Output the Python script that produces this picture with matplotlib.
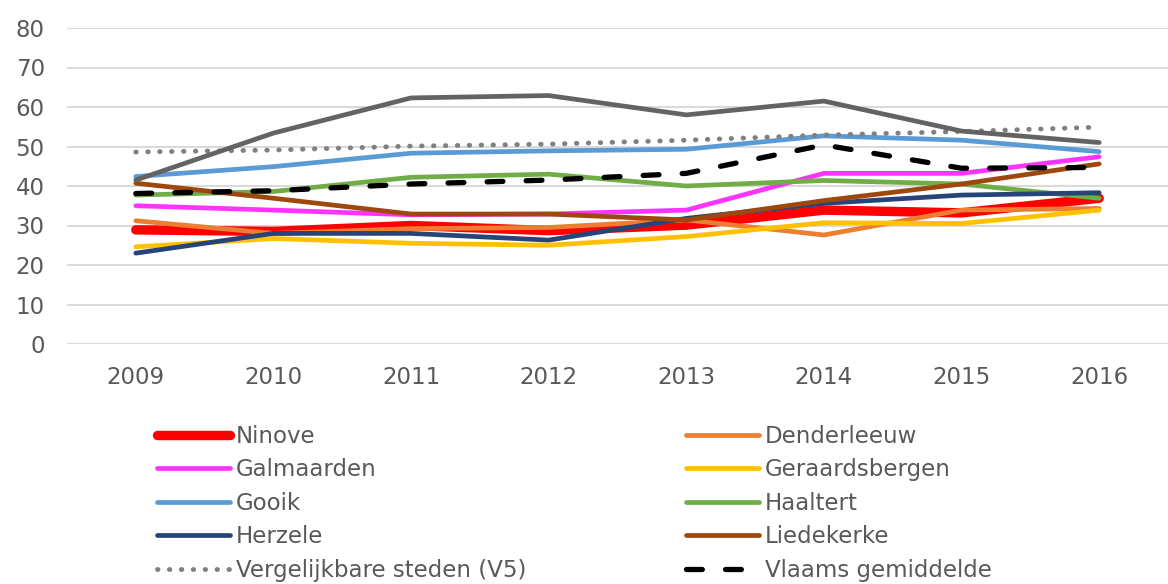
import matplotlib.pyplot as plt
import numpy as np

plt.rcParams['font.family'] = ['DejaVu Sans']

jaren = ['2009', '2010', '2011', '2012', '2013', '2014', '2015', '2016']

ninove = [28.9, 28.5, 30.0, 28.7, 30.1, 33.9, 33.2, 36.9]
denderleeuw = [31.2, 28.0, 29.2, 29.5, 31.4, 27.6, 33.9, 34.3]
galmaarden = [35.0, 33.9, 32.7, 32.9, 33.9, 43.2, 43.2, 47.4]
geraardsbergen = [24.6, 26.7, 25.5, 25.0, 27.2, 30.7, 30.5, 33.9]
gooik = [42.4, 44.9, 48.3, 48.9, 49.3, 52.7, 51.6, 48.7]
haaltert = [37.7, 38.6, 42.2, 43.0, 40.0, 41.4, 40.5, 36.9]
herzele = [23.0, 28.0, 28.0, 26.3, 31.8, 35.6, 37.7, 38.3]
liedekerke = [40.7, 36.9, 32.9, 32.9, 31.4, 36.3, 40.5, 45.6]
v5 = [48.6, 49.1, 50.1, 50.6, 51.6, 52.9, 53.8, 54.9]
vlaams = [38.1, 38.8, 40.5, 41.5, 43.2, 50.4, 44.5, 44.7]
# donkergrijze reeks zonder legende-item
extra = [41.5, 53.4, 62.3, 62.9, 58.0, 61.5, 53.9, 51.0]

fig = plt.figure(figsize=(11.68, 5.84), dpi=100)
ax = fig.add_axes([67 / 1168, 1 - 344 / 584, 1 - 67 / 1168, 316 / 584])

x = np.arange(len(jaren))
lw = 3.4

h_nin, = ax.plot(x, ninove, color='#FF0000', lw=6.8, solid_capstyle='round', label='Ninove')
h_den, = ax.plot(x, denderleeuw, color='#ED7D31', lw=lw, solid_capstyle='round', label='Denderleeuw')
h_gal, = ax.plot(x, galmaarden, color='#FF33FF', lw=lw, solid_capstyle='round', label='Galmaarden')
h_ger, = ax.plot(x, geraardsbergen, color='#FFC000', lw=lw, solid_capstyle='round', label='Geraardsbergen')
h_goo, = ax.plot(x, gooik, color='#5B9BD5', lw=lw, solid_capstyle='round', label='Gooik')
h_haa, = ax.plot(x, haaltert, color='#70AD47', lw=lw, solid_capstyle='round', label='Haaltert')
h_her, = ax.plot(x, herzele, color='#264478', lw=lw, solid_capstyle='round', label='Herzele')
h_lie, = ax.plot(x, liedekerke, color='#9E480E', lw=lw, solid_capstyle='round', label='Liedekerke')
h_v5, = ax.plot(x, v5, color='#808080', lw=3.5, linestyle=(0, (0.1, 2.35)),
                dash_capstyle='round', label='Vergelijkbare steden (V5)')
h_vla, = ax.plot(x, vlaams, color='black', lw=3.8, linestyle=(0, (3.0, 4.4)),
                 dash_capstyle='round', label='Vlaams gemiddelde')
ax.plot(x, extra, color='#636363', lw=lw, solid_capstyle='round')

ax.set_xlim(-0.5, len(jaren) - 0.5)
ax.set_ylim(0, 80)
ax.set_yticks(range(0, 81, 10))
ax.set_xticks(x)
ax.set_xticklabels(jaren)
ax.grid(axis='y', color='#D9D9D9', lw=1.4)
ax.set_axisbelow(True)
for s in ax.spines.values():
    s.set_visible(False)
ax.tick_params(axis='both', length=0, labelsize=16.5, colors='#595959')
ax.tick_params(axis='y', pad=16)
ax.tick_params(axis='x', pad=16)

leg_kw = dict(loc='upper left', frameon=False, fontsize=16.5, handlelength=3.2,
              handletextpad=0.25, labelspacing=0.455, borderpad=0, borderaxespad=0,
              labelcolor='#595959')
leg1 = fig.legend([h_nin, h_gal, h_goo, h_her, h_v5],
                  [h.get_label() for h in [h_nin, h_gal, h_goo, h_her, h_v5]],
                  bbox_to_anchor=(157 / 1168, 1 - 425 / 584), **leg_kw)
leg2 = fig.legend([h_den, h_ger, h_haa, h_lie, h_vla],
                  [h.get_label() for h in [h_den, h_ger, h_haa, h_lie, h_vla]],
                  bbox_to_anchor=(686 / 1168, 1 - 425 / 584), **leg_kw)

fig.savefig('out.png', dpi=100)
